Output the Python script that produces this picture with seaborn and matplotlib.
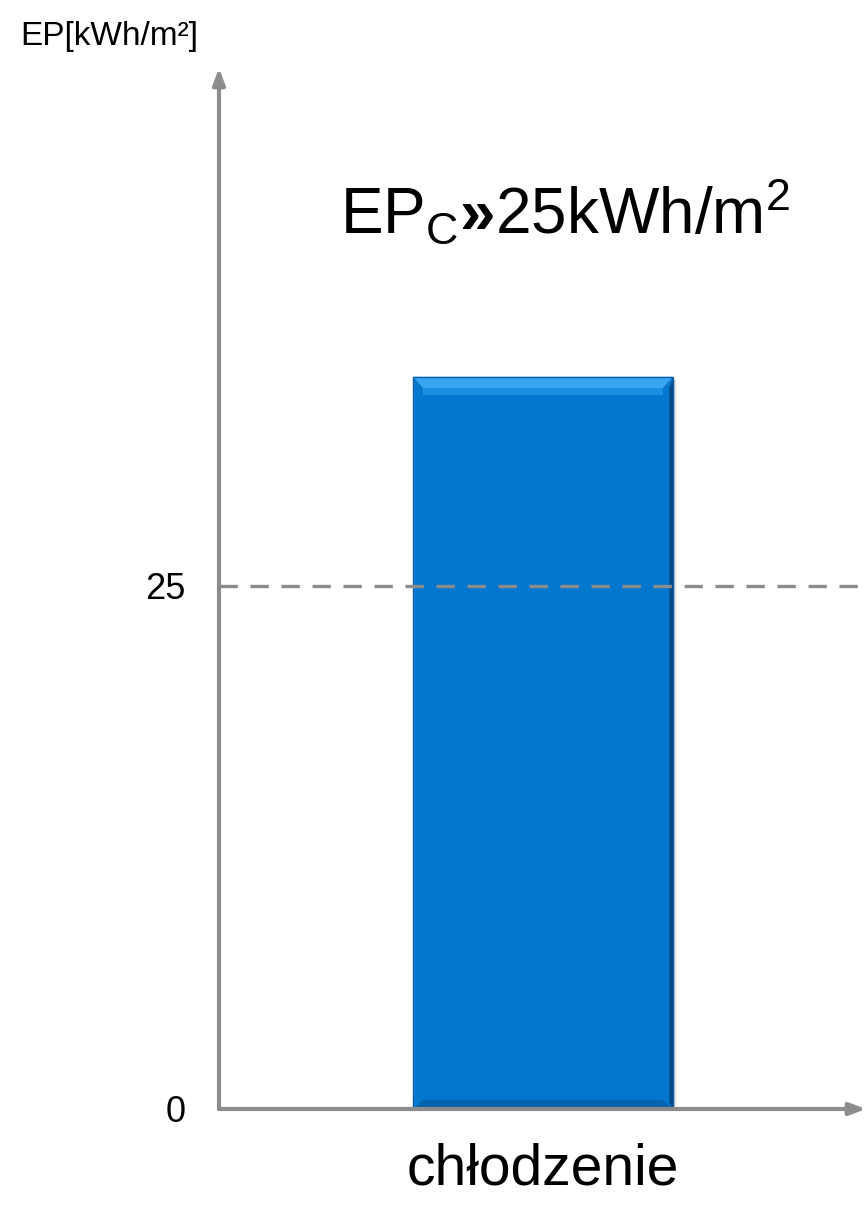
import matplotlib
matplotlib.use("Agg")
import matplotlib.pyplot as plt
from matplotlib.patches import Polygon
import seaborn as sns
import pandas as pd

categories = ["chłodzenie"]
values = [35]
reference_level = 25
y_ticks = [0, 25]
y_label = "EP[kWh/m²]"
headline = "EP$_\\mathregular{C}$$\\mathbf{»}$25kWh/m$^2$"

sns.set_theme(style="white")
plt.rcParams["font.family"] = ["Liberation Sans", "DejaVu Sans"]
plt.rcParams["mathtext.fontset"] = "custom"
plt.rcParams["mathtext.rm"] = "Liberation Sans"
plt.rcParams["mathtext.it"] = "Liberation Sans"
plt.rcParams["mathtext.bf"] = "Liberation Sans:bold"
plt.rcParams["mathtext.default"] = "regular"
plt.rcParams["text.color"] = "black"

W, H = 868, 1206
fig = plt.figure(figsize=(W / 100, H / 100), dpi=100)
ax_left, ax_right = 219 / W, 866 / W
ax_bottom, ax_top = (H - 1109) / H, (H - 68) / H
ax = fig.add_axes([ax_left, ax_bottom, ax_right - ax_left, ax_top - ax_bottom])

df = pd.DataFrame({"kat": categories, "ep": values})
bar_color = "#0577CF"
sns.barplot(data=df, x="kat", y="ep", color=bar_color, width=0.8,
            saturation=1, ax=ax, zorder=3)

ax.set_xlim(-0.997, 0.994)
ax.set_ylim(0, 49.76)

# bevel on the bar: light top edge, darker right and bottom edges, soft shadow
for p in ax.patches:
    p.set_edgecolor("none")
    x0, y0 = p.get_x(), p.get_y()
    w, h = p.get_width(), p.get_height()
    x1, y1 = x0 + w, y0 + h
    dx, dy = w * 0.04, 0.55
    for k, a in enumerate((0.10, 0.06, 0.03)):
        off = w * 0.006 * (k + 1)
        ax.add_patch(plt.Rectangle((x0 + off, y0), w, h - 0.15, color="#000000",
                                   alpha=a, zorder=2, lw=0))
    top = Polygon([(x0, y1), (x1, y1), (x1 - dx, y1 - dy), (x0 + dx, y1 - dy)],
                  closed=True, facecolor="#3AA6F0", edgecolor="none", zorder=4)
    top_in = Polygon([(x0 + dx, y1 - dy), (x1 - dx, y1 - dy),
                      (x1 - dx, y1 - dy * 1.6), (x0 + dx, y1 - dy * 1.6)],
                     closed=True, facecolor="#1C8EE0", edgecolor="none", zorder=4)
    right = Polygon([(x1, y1), (x1, y0), (x1 - w * 0.014, y0 + dy * 0.5),
                     (x1 - w * 0.014, y1 - dy)],
                    closed=True, facecolor="#044A85", edgecolor="none", zorder=4)
    bottom = Polygon([(x0, y0), (x1, y0), (x1 - dx, y0 + dy * 0.8),
                      (x0 + dx, y0 + dy * 0.8)],
                     closed=True, facecolor="#0463AD", edgecolor="none", zorder=4)
    left = Polygon([(x0, y0), (x0, y1), (x0 + w * 0.006, y1 - dy),
                    (x0 + w * 0.006, y0 + dy)],
                   closed=True, facecolor="#1483D6", edgecolor="none", zorder=4)
    edge = plt.Rectangle((x0, y0), w, h, fill=False, edgecolor="#0A5FA8",
                         lw=1.0, zorder=5)
    for patch in (top, top_in, right, bottom, left, edge):
        ax.add_patch(patch)

axis_gray = "#8C8C8C"
ax.axhline(reference_level, color=axis_gray, lw=2.4, ls=(0, (5.5, 3.8)), zorder=5)

for s in ax.spines.values():
    s.set_visible(False)

# axes drawn as arrows
for tip in ((0, 1.0), (1.0, 0)):
    ax.annotate("", xy=tip, xytext=(0, 0), xycoords="axes fraction",
                arrowprops=dict(arrowstyle="-|>,head_length=0.8,head_width=0.3",
                                color=axis_gray, lw=3.0, shrinkA=0, shrinkB=0),
                zorder=6)

ax.set_yticks(y_ticks)
ax.set_yticklabels([str(t) for t in y_ticks], fontsize=26, color="black")
ax.tick_params(axis="y", length=0, pad=24)
ax.tick_params(axis="x", length=0, pad=24, labelsize=41, labelcolor="black")
ax.set_xlabel("")
ax.set_ylabel("")
ax.grid(False)

fig.text(20 / W, 1 - 36 / H, y_label, fontsize=24, ha="left", va="center")
fig.text(565 / W, 1 - 212 / H, headline, fontsize=46, ha="center", va="center")

fig.savefig("out.png", dpi=100, facecolor="white")
